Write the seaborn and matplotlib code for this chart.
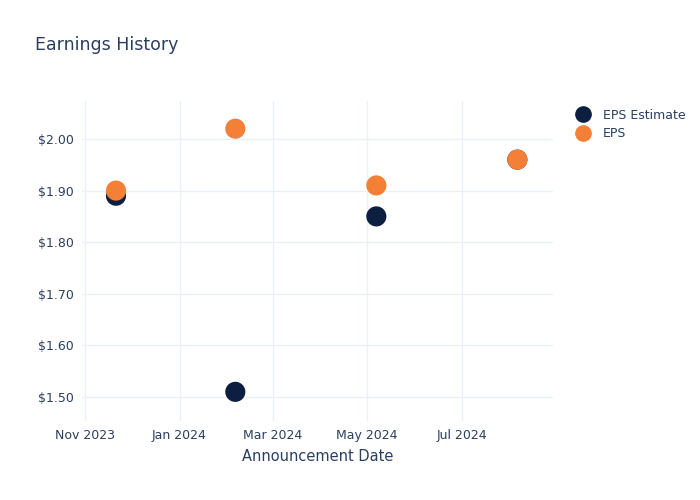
import pandas as pd
import numpy as np
import matplotlib
matplotlib.use("Agg")
import matplotlib.pyplot as plt
import matplotlib.dates as mdates
import seaborn as sns

dates = ["2023-11-21", "2024-02-06", "2024-05-07", "2024-08-06"]
eps_estimate = [1.89, 1.51, 1.85, 1.96]
eps_actual = [1.90, 2.02, 1.91, 1.96]
series_names = ["EPS Estimate", "EPS"]
colors = ["#0c1f40", "#f47f36"]

df = pd.concat([
    pd.DataFrame({"date": pd.to_datetime(dates), "value": eps_estimate, "series": series_names[0]}),
    pd.DataFrame({"date": pd.to_datetime(dates), "value": eps_actual, "series": series_names[1]}),
], ignore_index=True)

sns.set_theme(style="white")
plt.rcParams['font.family'] = ['DejaVu Sans']
text_color = "#2a3f5f"
grid_color = "#ebf0f8"

fig = plt.figure(figsize=(7, 5), dpi=100)
ax = fig.add_axes([0.117, 0.158, 0.673, 0.64])

sns.scatterplot(data=df, x="date", y="value", hue="series", hue_order=series_names,
                palette=colors, s=210, edgecolor="none", ax=ax, legend=False, zorder=3)

ax.set_xlim(pd.Timestamp("2023-10-30"), pd.Timestamp("2024-08-29"))
ax.set_ylim(1.4535, 2.0736)
ax.xaxis.set_major_locator(mdates.MonthLocator(bymonth=[1, 3, 5, 7, 9, 11]))
ax.xaxis.set_major_formatter(mdates.DateFormatter("%b %Y"))
ax.set_yticks([1.5, 1.6, 1.7, 1.8, 1.9, 2.0])
ax.set_yticklabels([f"${v:.2f}" for v in [1.5, 1.6, 1.7, 1.8, 1.9, 2.0]])

ax.grid(True, color=grid_color, linewidth=1)
ax.set_axisbelow(True)
for sp in ax.spines.values():
    sp.set_visible(False)
ax.tick_params(axis="both", length=0, labelsize=9, colors=text_color, pad=6)
ax.set_xlabel("Announcement Date", fontsize=10.5, color=text_color, labelpad=5)
ax.set_ylabel("")

fig.text(0.05, 0.91, "Earnings History", fontsize=12.5, color=text_color, va="center", ha="left")

handles = [plt.Line2D([], [], marker="o", linestyle="", markersize=11, color=c) for c in colors]
leg = fig.legend(handles, series_names, loc="upper left", bbox_to_anchor=(0.806, 0.805),
                 frameon=False, fontsize=9, labelcolor=text_color, handletextpad=1.0,
                 labelspacing=0.45, handlelength=1.2)

fig.savefig("out.png", dpi=100)
